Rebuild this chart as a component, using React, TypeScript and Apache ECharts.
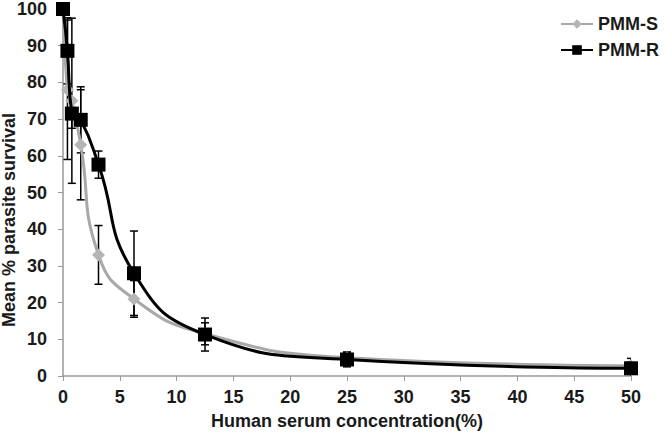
import React, { useEffect, useRef } from "react";
import * as echarts from "echarts";

const concentrations = [0, 0.39, 0.78, 1.56, 3.125, 6.25, 12.5, 25, 50];
const pmmS = [100, 78, 75, 63, 33, 21, 11.5, 5, 2.8];
const pmmR = [100, 88.6, 71.5, 69.8, 57.6, 28, 11.3, 4.5, 2.1];
const pmmSErr = [0, 19, 22.5, 15, 8, 5, 3, 1.5, 1];
const pmmRErr = [0, 9, 4, 9, 3.7, 11.5, 4.5, 2, 2.7];

const FONT = "'Liberation Sans', Arial, sans-serif";

function errData(vals: number[], errs: number[]) {
  return concentrations
    .map((c, i) => [c, vals[i] - errs[i], vals[i] + errs[i], errs[i]])
    .filter((d) => d[3] > 0);
}

const renderErr = (params: any, api: any) => {
  const x = api.value(0);
  const lo = api.value(1);
  const hi = api.value(2);
  const pHi = api.coord([x, hi]);
  const pLo = api.coord([x, lo]);
  const w = 4;
  const style = { stroke: "#000", lineWidth: 1.5 };
  return {
    type: "group",
    children: [
      { type: "line", shape: { x1: pHi[0], y1: pHi[1], x2: pLo[0], y2: pLo[1] }, style },
      { type: "line", shape: { x1: pHi[0] - w, y1: pHi[1], x2: pHi[0] + w, y2: pHi[1] }, style },
      { type: "line", shape: { x1: pLo[0] - w, y1: pLo[1], x2: pLo[0] + w, y2: pLo[1] }, style },
    ],
  };
};

export default function App() {
  const ref = useRef<HTMLDivElement>(null);
  useEffect(() => {
    const chart = echarts.init(ref.current!, null, { renderer: "svg" });
    chart.setOption({
      animation: false,
      backgroundColor: "#fff",
      grid: { left: 63, right: 35, top: 8, bottom: 59 },
      legend: {
        data: ["PMM-S", "PMM-R"],
        orient: "vertical",
        right: 2,
        top: 10,
        itemWidth: 32,
        itemHeight: 12,
        itemGap: 8,
        textStyle: { fontFamily: FONT, fontWeight: "bold", fontSize: 18, color: "#1a1a1a" },
      },
      xAxis: {
        type: "value",
        min: 0,
        max: 50,
        interval: 5,
        name: "Human serum concentration(%)",
        nameLocation: "middle",
        nameGap: 36,
        nameTextStyle: { fontFamily: FONT, fontWeight: "bold", fontSize: 18, color: "#1a1a1a" },
        axisLine: { lineStyle: { color: "#999", width: 1.5 } },
        axisTick: { show: true, inside: false, length: 5, lineStyle: { color: "#999" } },
        axisLabel: { fontFamily: FONT, fontWeight: "bold", fontSize: 18, color: "#1a1a1a", margin: 12 },
        splitLine: { show: false },
      },
      yAxis: {
        type: "value",
        min: 0,
        max: 100,
        interval: 10,
        axisLine: { show: true, lineStyle: { color: "#999", width: 1.5 } },
        axisTick: { show: true, length: 5, lineStyle: { color: "#999" } },
        axisLabel: { fontFamily: FONT, fontWeight: "bold", fontSize: 18, color: "#1a1a1a", margin: 16 },
        splitLine: { show: false },
      },
      graphic: [
        {
          type: "text",
          x: 9,
          y: 220,
          rotation: Math.PI / 2,
          style: {
            text: "Mean % parasite survival",
            fontFamily: FONT,
            fontWeight: "bold",
            fontSize: 18,
            fill: "#1a1a1a",
            align: "center",
            verticalAlign: "middle",
          },
        },
      ],
      series: [
        {
          type: "custom",
          name: "errS",
          renderItem: renderErr,
          data: errData(pmmS, pmmSErr),
          encode: { x: 0, y: [1, 2] },
          clip: true,
          z: 1,
        },
        {
          type: "custom",
          name: "errR",
          renderItem: renderErr,
          data: errData(pmmR, pmmRErr),
          encode: { x: 0, y: [1, 2] },
          clip: true,
          z: 1,
        },
        {
          type: "line",
          name: "PMM-S",
          data: concentrations.map((c, i) => [c, pmmS[i]]),
          smooth: 0.5,
          symbol: "diamond",
          symbolSize: 13,
          lineStyle: { color: "#a8a8a8", width: 3 },
          itemStyle: { color: "#b5b5b5" },
          z: 2,
        },
        {
          type: "line",
          name: "PMM-R",
          data: concentrations.map((c, i) => [c, pmmR[i]]),
          smooth: 0.5,
          symbol: "rect",
          symbolSize: 14,
          lineStyle: { color: "#000", width: 3 },
          itemStyle: { color: "#000" },
          z: 3,
        },
      ],
    });
    return () => chart.dispose();
  }, []);
  return <div ref={ref} style={{ width: 666, height: 435, position: "absolute", left: 0, top: 0 }} />;
}
